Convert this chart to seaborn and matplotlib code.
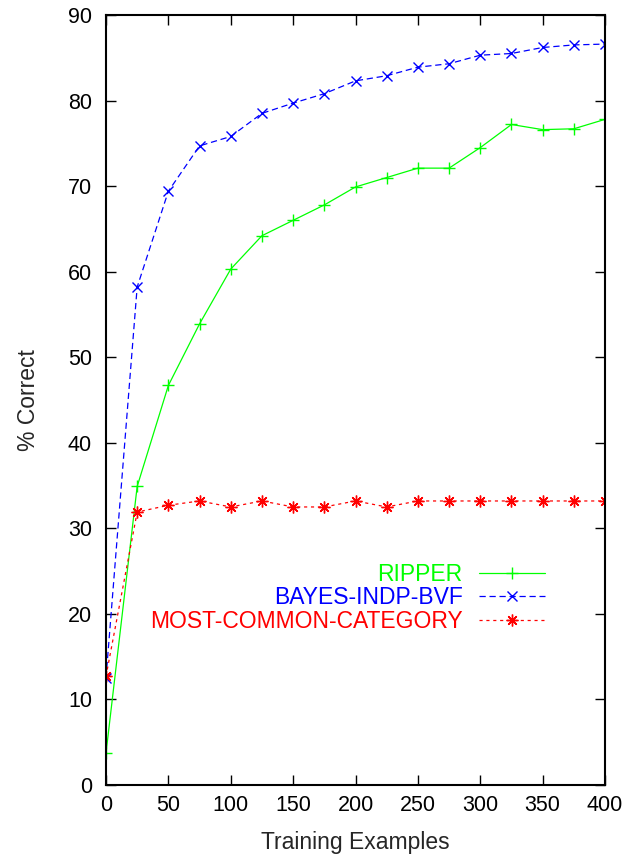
import matplotlib
matplotlib.use("Agg")
import matplotlib.pyplot as plt
import seaborn as sns
import pandas as pd

x_vals = [0, 25, 50, 75, 100, 125, 150, 175, 200, 225, 250, 275, 300, 325, 350, 375, 400]
ripper = [3.7, 34.9, 46.7, 53.9, 60.3, 64.2, 66.0, 67.8, 69.9, 71.0, 72.1, 72.1, 74.5, 77.2, 76.6, 76.7, 77.8]
bayes = [12.5, 58.2, 69.4, 74.7, 75.8, 78.5, 79.7, 80.8, 82.3, 82.9, 83.9, 84.3, 85.3, 85.5, 86.2, 86.5, 86.6]
most_common = [12.7, 31.9, 32.7, 33.2, 32.5, 33.2, 32.5, 32.5, 33.2, 32.5, 33.2, 33.2, 33.2, 33.2, 33.2, 33.2, 33.2]
series_names = ["RIPPER", "BAYES-INDP-BVF", "MOST-COMMON-CATEGORY"]
x_ticks = [0, 50, 100, 150, 200, 250, 300, 350, 400]
y_ticks = [0, 10, 20, 30, 40, 50, 60, 70, 80, 90]

sns.set_style("ticks")
plt.rcParams['font.family'] = ['Liberation Sans', 'DejaVu Sans']

FS_TICK = 15.5
FS = 16.5
fig = plt.figure(figsize=(6.35, 8.56), dpi=100)
ax = fig.add_axes([0.1669, 0.0829, 0.7859, 0.8996])

styles = [
    dict(color="#00ff00", linestyle="-", marker="+", ms=8, mew=1.0),
    dict(color="#0000ff", linestyle=(0, (5, 3)), marker="x", ms=7, mew=1.0),
    dict(color="#ff0000", linestyle=(0, (2.5, 3)), marker=(8, 2, 0), ms=8.5, mew=1.0),
]
for name, ys, st in zip(series_names, [ripper, bayes, most_common], styles):
    df = pd.DataFrame({"x": x_vals, "y": ys})
    sns.lineplot(data=df, x="x", y="y", ax=ax, label=name, lw=0.9,
                 color=st["color"], linestyle=st["linestyle"], marker=st["marker"],
                 markersize=st["ms"], markeredgewidth=st["mew"],
                 markeredgecolor=st["color"], markerfacecolor=st["color"])

ax.set_xlim(0, 400)
ax.set_ylim(0, 90)
ax.set_xticks(x_ticks)
ax.set_yticks(y_ticks)
ax.tick_params(direction="in", length=7, width=1.0, top=True, right=True,
               labelsize=FS_TICK, colors="black")
ax.tick_params(axis="y", pad=10)
ax.tick_params(axis="x", pad=7)
for sp in ax.spines.values():
    sp.set_linewidth(1.5)
    sp.set_color("black")
ax.set_xlabel("Training Examples", fontsize=FS, labelpad=11)
ax.set_ylabel("% Correct", fontsize=FS, labelpad=20)

leg = ax.legend(loc="center right", bbox_to_anchor=(0.88, 0.243),
                frameon=False, markerfirst=False, labelcolor="linecolor",
                fontsize=FS, handlelength=2.9, handletextpad=0.7,
                labelspacing=0.02, numpoints=1, borderpad=0, borderaxespad=0)
for t in leg.get_texts():
    t.set_ha("right")

fig.savefig("out.png", dpi=100)
